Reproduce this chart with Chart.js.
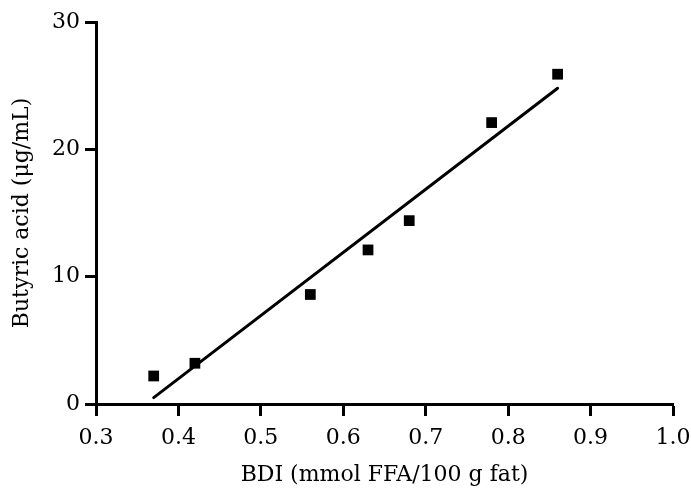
<!DOCTYPE html>
<html>
<head>
<meta charset="utf-8">
<script src="https://cdn.jsdelivr.net/npm/chart.js@4"></script>
<style>
  html, body { margin: 0; padding: 0; background: #fff; }
  #wrap { width: 691px; height: 488px; }
</style>
</head>
<body>
<div id="wrap"><canvas id="chart" width="691" height="488"></canvas></div>
<script>
// BDI values (x) and butyric acid (y)
const bdi = [0.37, 0.42, 0.56, 0.63, 0.68, 0.78, 0.86];
const butyric = [2.2, 3.2, 8.6, 12.1, 14.4, 22.1, 25.9];
// fitted line end points as drawn
const fitX = [0.37, 0.86];
const fitY = [0.5, 24.8];

const xTicks = [0.3, 0.4, 0.5, 0.6, 0.7, 0.8, 0.9, 1.0];
const yTicks = [0, 10, 20, 30];

const serif = "'DejaVu Serif', 'Liberation Serif', serif";
Chart.defaults.font.family = serif;
Chart.defaults.color = '#000';

const ctx = document.getElementById('chart').getContext('2d');
new Chart(ctx, {
  type: 'scatter',
  data: {
    datasets: [
      {
        label: 'Butyric acid',
        data: bdi.map((x, i) => ({ x: x, y: butyric[i] })),
        pointStyle: 'rect',
        pointRadius: 7.6,
        backgroundColor: '#000',
        borderColor: '#000',
        borderWidth: 0,
        showLine: false
      },
      {
        label: 'Fit',
        data: fitX.map((x, i) => ({ x: x, y: fitY[i] })),
        showLine: true,
        pointRadius: 0,
        borderColor: '#000',
        borderWidth: 3,
        borderCapStyle: 'round',
        fill: false
      }
    ]
  },
  options: {
    responsive: false,
    animation: false,
    layout: { padding: { top: 22, right: 18, left: 0, bottom: 0 } },
    plugins: {
      legend: { display: false },
      tooltip: { enabled: false }
    },
    scales: {
      x: {
        type: 'linear',
        min: 0.3,
        max: 1.0,
        afterFit: s => { s.height = 84; s.paddingRight = 0; },
        afterBuildTicks: s => { s.ticks = xTicks.map(v => ({ value: v })); },
        grid: {
          drawOnChartArea: false,
          drawTicks: true,
          tickLength: 12,
          tickWidth: 3,
          tickColor: '#000'
        },
        border: { display: true, color: '#000', width: 3 },
        ticks: {
          padding: 9,
          font: { size: 22 },
          color: '#000',
          maxRotation: 0,
          callback: v => v.toFixed(1)
        },
        title: {
          display: true,
          text: 'BDI (mmol FFA/100 g fat)',
          font: { size: 22, lineHeight: 1.0 },
          color: '#000',
          padding: { top: 0, bottom: 2 }
        }
      },
      y: {
        type: 'linear',
        min: 0,
        max: 30,
        afterFit: s => { s.width = 96; },
        afterBuildTicks: s => { s.ticks = yTicks.map(v => ({ value: v })); },
        grid: {
          drawOnChartArea: false,
          drawTicks: true,
          tickLength: 11,
          tickWidth: 3,
          tickColor: '#000'
        },
        border: { display: true, color: '#000', width: 3 },
        ticks: {
          padding: 5,
          font: { size: 22 },
          color: '#000'
        },
        title: {
          display: true,
          text: 'Butyric acid (μg/mL)',
          font: { size: 22 },
          color: '#000',
          padding: { top: 9, bottom: 0 }
        }
      }
    }
  }
});
</script>
</body>
</html>
